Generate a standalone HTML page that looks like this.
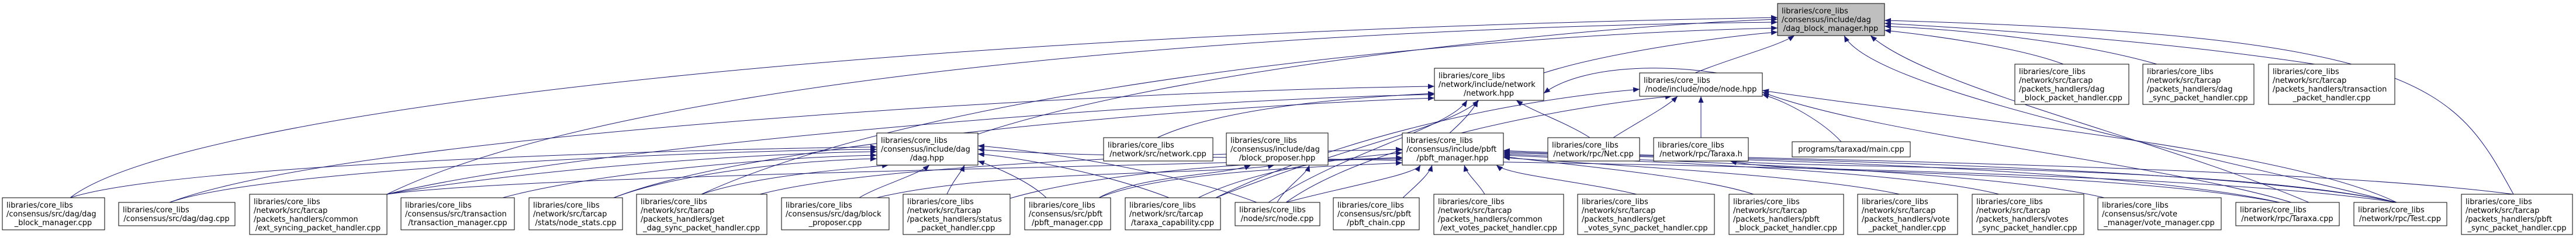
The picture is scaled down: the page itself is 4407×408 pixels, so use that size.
<!DOCTYPE html>
<html><head><meta charset="utf-8"><style>
html,body{margin:0;padding:0;background:#fff;}
svg{display:block;}
text{font-family:"DejaVu Sans","Liberation Sans",sans-serif;font-size:13px;fill:#000;}
.n{fill:#fff;stroke:#000;stroke-width:1;}
.r{fill:#bfbfbf;stroke:#000;stroke-width:1;}
.s{fill:none;stroke:#999;stroke-width:1.5;}
.e{fill:none;stroke:#191970;stroke-width:1;marker-end:url(#a);}
</style></head><body>
<svg width="4407" height="408" viewBox="0 0 4407 408" xmlns="http://www.w3.org/2000/svg">
<defs><marker id="a" markerUnits="userSpaceOnUse" markerWidth="12" markerHeight="10" refX="11" refY="4.5" orient="auto"><path d="M0,0 L11,4.5 L0,9 z" fill="#191970"/></marker></defs>
<g>
<path class="e" d="M120,339 C300,200 1400,60 3041,30"/>
<path class="e" d="M120,339 C300,280 1200,255 1500,252"/>
<path class="e" d="M290,347 C450,290 1200,258 1500,256"/>
<path class="e" d="M290,347 C600,230 1900,155 2454,148"/>
<path class="e" d="M662,333 C1100,120 2300,45 3041,38"/>
<path class="e" d="M662,333 C1000,250 2000,170 2454,162"/>
<path class="e" d="M662,333 C900,290 1300,262 1500,260"/>
<path class="e" d="M662,333 C900,300 2000,285 2399,270"/>
<path class="e" d="M860,339 C1000,300 1300,270 1500,266"/>
<path class="e" d="M1050,339 C1150,300 1350,275 1500,272"/>
<path class="e" d="M1050,339 C1300,240 2100,180 2454,168"/>
<path class="e" d="M1200,333 C1300,300 1450,290 1520,283"/>
<path class="e" d="M1300,333 C1500,280 2100,262 2399,256"/>
<path class="e" d="M1200,333 C1600,150 2500,60 3041,48"/>
<path class="e" d="M1470,339 C1500,320 1570,300 1590,283"/>
<path class="e" d="M1500,339 C1700,290 2100,300 2180,283"/>
<path class="e" d="M1620,333 C1630,310 1645,295 1650,283"/>
<path class="e" d="M1728,340 C1900,290 2200,275 2399,272"/>
<path class="e" d="M1790,339 C1760,310 1700,285 1673,276"/>
<path class="e" d="M1880,339 C1950,300 2100,300 2140,283"/>
<path class="e" d="M1880,339 C2000,290 2300,285 2399,279"/>
<path class="e" d="M2000,339 C1900,300 1750,270 1673,264"/>
<path class="e" d="M2050,339 C2150,290 2300,270 2399,262"/>
<path class="e" d="M2080,339 C2300,250 2480,220 2530,172"/>
<path class="e" d="M2080,339 C2300,230 2600,170 2805,153"/>
<path class="e" d="M2150,347 C2000,290 1750,255 1673,250"/>
<path class="e" d="M2185,347 C2200,320 2235,300 2240,283"/>
<path class="e" d="M2200,347 C2300,320 2420,300 2430,283"/>
<path class="e" d="M2200,347 C2350,240 2700,180 2860,165"/>
<path class="e" d="M2170,347 C2300,260 2480,220 2510,172"/>
<path class="e" d="M2400,339 C2420,320 2445,300 2450,283"/>
<path class="e" d="M2540,333 C2530,315 2510,300 2505,283"/>
<path class="e" d="M2800,333 C2700,310 2580,300 2560,283"/>
<path class="e" d="M3000,333 C2900,300 2650,280 2572,268"/>
<path class="e" d="M3250,333 C3100,300 2700,280 2572,270"/>
<path class="e" d="M3420,333 C3250,290 2750,275 2572,266"/>
<path class="e" d="M3600,339 C3400,290 2800,275 2572,264"/>
<path class="e" d="M3900,347 C3600,280 2800,270 2572,262"/>
<path class="e" d="M3900,347 C3600,290 3050,300 2960,276"/>
<path class="e" d="M3920,347 C3700,280 3200,230 3015,158"/>
<path class="e" d="M4100,347 C3800,280 2800,270 2572,260"/>
<path class="e" d="M4100,347 C3800,280 3100,290 2960,276"/>
<path class="e" d="M4100,347 C3900,250 3300,200 3015,155"/>
<path class="e" d="M4100,347 C3700,250 3200,150 3155,61"/>
<path class="e" d="M4100,347 C3600,270 1900,280 1673,256"/>
<path class="e" d="M3950,347 C3700,240 3300,150 3200,61"/>
<path class="e" d="M4300,333 C3900,280 2800,270 2572,258"/>
<path class="e" d="M4300,333 C4200,150 4150,60 3224,35"/>
<path class="e" d="M1980,236 C2100,180 2350,165 2454,160"/>
<path class="e" d="M2720,236 C2680,210 2620,190 2594,172"/>
<path class="e" d="M2760,236 C2800,210 2850,185 2870,165"/>
<path class="e" d="M2910,236 C2910,210 2910,190 2910,165"/>
<path class="e" d="M3150,243 C3120,210 3060,175 3015,162"/>
<path class="e" d="M2480,228 C2500,210 2520,190 2528,172"/>
<path class="e" d="M2641,125 C2750,90 2950,62 3041,55"/>
<path class="e" d="M2900,125 C2960,100 3040,80 3070,61"/>
<path class="e" d="M1673,230 C2000,120 2700,45 3041,33"/>
<path class="e" d="M3530,110 C3450,80 3300,60 3224,52"/>
<path class="e" d="M3690,110 C3550,70 3350,50 3224,45"/>
<path class="e" d="M3960,110 C3700,70 3400,50 3224,40"/>
<path class="e" d="M3015,140 C2850,100 2700,115 2641,160"/>
</g>
<g>
<rect class="r" x="3041" y="6" width="183" height="55"/>
<text x="3048" y="23">libraries/core_libs</text><text x="3048" y="38">/consensus/include/dag</text><text x="3132" y="53" text-anchor="middle">/dag_block_manager.hpp</text>

<rect class="n" x="2454" y="117" width="187" height="55"/>
<text x="2461" y="134">libraries/core_libs</text><text x="2461" y="149">/network/include/network</text><text x="2547" y="164" text-anchor="middle">/network.hpp</text>

<rect class="n" x="2805" y="125" width="210" height="40"/>
<text x="2812" y="142">libraries/core_libs</text><text x="2910" y="157" text-anchor="middle">/node/include/node/node.hpp</text>

<rect class="n" x="3447" y="110" width="195" height="69"/>
<text x="3454" y="127">libraries/core_libs</text><text x="3454" y="142">/network/src/tarcap</text><text x="3454" y="157">/packets_handlers/dag</text><text x="3544" y="172" text-anchor="middle">_block_packet_handler.cpp</text>

<rect class="n" x="3666" y="110" width="190" height="69"/>
<text x="3673" y="127">libraries/core_libs</text><text x="3673" y="142">/network/src/tarcap</text><text x="3673" y="157">/packets_handlers/dag</text><text x="3761" y="172" text-anchor="middle">_sync_packet_handler.cpp</text>

<rect class="n" x="3881" y="110" width="216" height="69"/>
<text x="3888" y="127">libraries/core_libs</text><text x="3888" y="142">/network/src/tarcap</text><text x="3888" y="157">/packets_handlers/transaction</text><text x="3989" y="172" text-anchor="middle">_packet_handler.cpp</text>

<rect class="n" x="1500" y="228" width="173" height="55"/>
<text x="1507" y="245">libraries/core_libs</text><text x="1507" y="260">/consensus/include/dag</text><text x="1586" y="275" text-anchor="middle">/dag.hpp</text>

<rect class="n" x="1888" y="236" width="187" height="40"/>
<text x="1895" y="253">libraries/core_libs</text><text x="1981" y="268" text-anchor="middle">/network/src/network.cpp</text>

<rect class="n" x="2098" y="228" width="174" height="55"/>
<text x="2105" y="245">libraries/core_libs</text><text x="2105" y="260">/consensus/include/dag</text><text x="2185" y="275" text-anchor="middle">/block_proposer.hpp</text>

<rect class="n" x="2399" y="228" width="173" height="55"/>
<text x="2406" y="245">libraries/core_libs</text><text x="2406" y="260">/consensus/include/pbft</text><text x="2485" y="275" text-anchor="middle">/pbft_manager.hpp</text>

<rect class="n" x="2648" y="236" width="157" height="40"/>
<text x="2655" y="253">libraries/core_libs</text><text x="2726" y="268" text-anchor="middle">/network/rpc/Net.cpp</text>

<rect class="n" x="2829" y="236" width="162" height="40"/>
<text x="2836" y="253">libraries/core_libs</text><text x="2910" y="268" text-anchor="middle">/network/rpc/Taraxa.h</text>

<rect class="n" x="3066" y="243" width="202" height="26"/>
<text x="3167" y="260" text-anchor="middle">programs/taraxad/main.cpp</text>

<!-- bottom row -->
<rect class="n" x="4" y="339" width="175" height="55"/>
<text x="11" y="356">libraries/core_libs</text><text x="11" y="371">/consensus/src/dag/dag</text><text x="91" y="386" text-anchor="middle">_block_manager.cpp</text>

<rect class="n" x="203" y="347" width="199" height="40"/>
<text x="210" y="364">libraries/core_libs</text><text x="302" y="379" text-anchor="middle">/consensus/src/dag/dag.cpp</text>

<rect class="n" x="427" y="333" width="235" height="69"/>
<text x="434" y="350">libraries/core_libs</text><text x="434" y="365">/network/src/tarcap</text><text x="434" y="380">/packets_handlers/common</text><text x="544" y="395" text-anchor="middle">/ext_syncing_packet_handler.cpp</text>

<rect class="n" x="686" y="339" width="194" height="55"/>
<text x="693" y="356">libraries/core_libs</text><text x="693" y="371">/consensus/src/transaction</text><text x="783" y="386" text-anchor="middle">/transaction_manager.cpp</text>

<rect class="n" x="905" y="339" width="160" height="55"/>
<text x="912" y="356">libraries/core_libs</text><text x="912" y="371">/network/src/tarcap</text><text x="985" y="386" text-anchor="middle">/stats/node_stats.cpp</text>

<rect class="n" x="1089" y="333" width="223" height="69"/>
<text x="1096" y="350">libraries/core_libs</text><text x="1096" y="365">/network/src/tarcap</text><text x="1096" y="380">/packets_handlers/get</text><text x="1200" y="395" text-anchor="middle">_dag_sync_packet_handler.cpp</text>

<rect class="n" x="1337" y="339" width="184" height="55"/>
<text x="1344" y="356">libraries/core_libs</text><text x="1344" y="371">/consensus/src/dag/block</text><text x="1429" y="386" text-anchor="middle">_proposer.cpp</text>

<rect class="n" x="1545" y="333" width="183" height="69"/>
<text x="1552" y="350">libraries/core_libs</text><text x="1552" y="365">/network/src/tarcap</text><text x="1552" y="380">/packets_handlers/status</text><text x="1636" y="395" text-anchor="middle">_packet_handler.cpp</text>

<rect class="n" x="1753" y="339" width="147" height="55"/>
<text x="1760" y="356">libraries/core_libs</text><text x="1760" y="371">/consensus/src/pbft</text><text x="1826" y="386" text-anchor="middle">/pbft_manager.cpp</text>

<rect class="n" x="1925" y="339" width="163" height="55"/>
<text x="1932" y="356">libraries/core_libs</text><text x="1932" y="371">/network/src/tarcap</text><text x="2006" y="386" text-anchor="middle">/taraxa_capability.cpp</text>

<rect class="n" x="2113" y="347" width="145" height="40"/>
<text x="2120" y="364">libraries/core_libs</text><text x="2185" y="379" text-anchor="middle">/node/src/node.cpp</text>

<rect class="n" x="2281" y="339" width="147" height="55"/>
<text x="2288" y="356">libraries/core_libs</text><text x="2288" y="371">/consensus/src/pbft</text><text x="2354" y="386" text-anchor="middle">/pbft_chain.cpp</text>

<rect class="n" x="2453" y="333" width="222" height="69"/>
<text x="2460" y="350">libraries/core_libs</text><text x="2460" y="365">/network/src/tarcap</text><text x="2460" y="380">/packets_handlers/common</text><text x="2564" y="395" text-anchor="middle">/ext_votes_packet_handler.cpp</text>

<rect class="n" x="2699" y="333" width="234" height="69"/>
<text x="2706" y="350">libraries/core_libs</text><text x="2706" y="365">/network/src/tarcap</text><text x="2706" y="380">/packets_handlers/get</text><text x="2816" y="395" text-anchor="middle">_votes_sync_packet_handler.cpp</text>

<rect class="n" x="2958" y="333" width="196" height="69"/>
<text x="2965" y="350">libraries/core_libs</text><text x="2965" y="365">/network/src/tarcap</text><text x="2965" y="380">/packets_handlers/pbft</text><text x="3056" y="395" text-anchor="middle">_block_packet_handler.cpp</text>

<rect class="n" x="3178" y="333" width="171" height="69"/>
<text x="3185" y="350">libraries/core_libs</text><text x="3185" y="365">/network/src/tarcap</text><text x="3185" y="380">/packets_handlers/vote</text><text x="3263" y="395" text-anchor="middle">_packet_handler.cpp</text>

<rect class="n" x="3374" y="333" width="191" height="69"/>
<text x="3381" y="350">libraries/core_libs</text><text x="3381" y="365">/network/src/tarcap</text><text x="3381" y="380">/packets_handlers/votes</text><text x="3469" y="395" text-anchor="middle">_sync_packet_handler.cpp</text>

<rect class="n" x="3589" y="339" width="211" height="55"/>
<text x="3596" y="356">libraries/core_libs</text><text x="3596" y="371">/consensus/src/vote</text><text x="3694" y="386" text-anchor="middle">_manager/vote_manager.cpp</text>

<rect class="n" x="3825" y="347" width="177" height="40"/>
<text x="3832" y="364">libraries/core_libs</text><text x="3913" y="379" text-anchor="middle">/network/rpc/Taraxa.cpp</text>

<rect class="n" x="4027" y="347" width="159" height="40"/>
<text x="4034" y="364">libraries/core_libs</text><text x="4106" y="379" text-anchor="middle">/network/rpc/Test.cpp</text>

<rect class="n" x="4211" y="333" width="190" height="69"/>
<text x="4218" y="350">libraries/core_libs</text><text x="4218" y="365">/network/src/tarcap</text><text x="4218" y="380">/packets_handlers/pbft</text><text x="4306" y="395" text-anchor="middle">_sync_packet_handler.cpp</text>
</g>
</svg>
</body></html>
